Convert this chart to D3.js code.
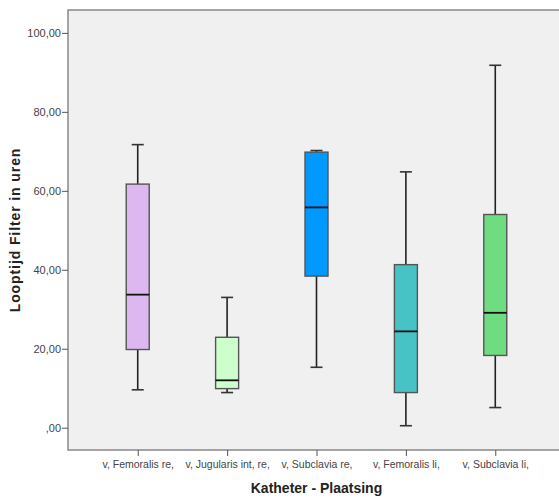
<!DOCTYPE html>
<html>
<head>
<meta charset="utf-8">
<script src="https://cdn.jsdelivr.net/npm/d3@7"></script>
<style>
  body { margin: 0; background: #fff; }
  svg { display: block; }
</style>
</head>
<body>
<div id="chart"></div>
<script>
const width = 559;
const height = 498;

// catheter placement categories
const categories = ['v, Femoralis re,', 'v, Jugularis int, re,', 'v, Subclavia re,', 'v, Femoralis li,', 'v, Subclavia li,'];
// five number summaries (hours)
const minima = [9.6, 8.9, 15.3, 0.5, 5.1];
const q1s = [19.8, 9.9, 38.4, 8.9, 18.3];
const medians = [33.7, 12.0, 55.8, 24.4, 29.1];
const q3s = [61.7, 22.9, 69.8, 41.3, 54.0];
const maxima = [71.7, 33.0, 70.2, 64.8, 91.8];
const boxColors = ['#ddb8f0', '#ccffcc', '#0099ff', '#47c3c6', '#6fdc82'];
const yTicks = [0, 20, 40, 60, 80, 100];

const margin = { top: 10, right: -6, bottom: 48, left: 68 };

const x = d3.scalePoint()
  .domain(categories)
  .range([margin.left, width - margin.right])
  .padding(0.78);

const y = d3.scaleLinear()
  .domain([-5.65, 105.8])
  .range([height - margin.bottom, margin.top]);

const fmt = d => d3.format('.2f')(d).replace('.', ',').replace(/^0/, '');

const svg = d3.select('#chart').append('svg')
    .attr('width', width)
    .attr('height', height);

// plot background
svg.append('rect')
    .attr('x', margin.left)
    .attr('y', margin.top)
    .attr('width', width - margin.right - margin.left)
    .attr('height', height - margin.bottom - margin.top)
    .attr('fill', '#f0f0f0')
    .attr('stroke', '#888')
    .attr('stroke-width', 1.5);

const yAxis = svg.append('g')
    .attr('transform', `translate(${margin.left},0)`)
    .call(d3.axisLeft(y).tickValues(yTicks).tickFormat(fmt).tickSize(6).tickPadding(1))
    .call(g => g.select('.domain').remove());
yAxis.selectAll('line').attr('stroke', '#555');
yAxis.selectAll('text')
    .attr('fill', '#444')
    .attr('font-family', 'Arial, "Liberation Sans", sans-serif')
    .attr('font-size', 11);

const xAxis = svg.append('g')
    .attr('transform', `translate(0,${height - margin.bottom})`)
    .call(d3.axisBottom(x).tickSize(6).tickPadding(5))
    .call(g => g.select('.domain').remove());
xAxis.selectAll('line').attr('stroke', '#555');
xAxis.selectAll('text')
    .attr('fill', '#444')
    .attr('font-family', 'Arial, "Liberation Sans", sans-serif')
    .attr('font-size', 10.5);

// axis titles
svg.append('text')
    .attr('x', x(categories[2]))
    .attr('y', 493)
    .attr('text-anchor', 'middle')
    .attr('font-family', 'Arial, "Liberation Sans", sans-serif')
    .attr('font-weight', 'bold')
    .attr('font-size', 14)
    .attr('fill', '#222')
    .text('Katheter - Plaatsing');

svg.append('text')
    .attr('transform', 'translate(20,230) rotate(-90)')
    .attr('text-anchor', 'middle')
    .attr('font-family', 'Arial, "Liberation Sans", sans-serif')
    .attr('font-weight', 'bold')
    .attr('font-size', 14)
    .attr('letter-spacing', 0.9)
    .attr('fill', '#222')
    .text('Looptijd Filter in uren');

const boxW = 23;
const capW = 12;

const boxes = svg.append('g')
  .selectAll('g')
  .data(categories)
  .join('g')
    .attr('transform', d => `translate(${x(d)},0)`);

// whiskers
boxes.append('line')
    .attr('y1', (d, i) => y(minima[i]))
    .attr('y2', (d, i) => y(maxima[i]))
    .attr('stroke', '#222')
    .attr('stroke-width', 1.6);

boxes.selectAll('line.cap')
  .data((d, i) => [minima[i], maxima[i]])
  .join('line')
    .attr('class', 'cap')
    .attr('x1', -capW / 2)
    .attr('x2', capW / 2)
    .attr('y1', d => y(d))
    .attr('y2', d => y(d))
    .attr('stroke', '#333')
    .attr('stroke-width', 1.6);

boxes.append('rect')
    .attr('x', -boxW / 2)
    .attr('width', boxW)
    .attr('y', (d, i) => y(q3s[i]))
    .attr('height', (d, i) => y(q1s[i]) - y(q3s[i]))
    .attr('fill', (d, i) => boxColors[i])
    .attr('stroke', '#555')
    .attr('stroke-width', 1.4);

boxes.append('line')
    .attr('x1', -boxW / 2)
    .attr('x2', boxW / 2)
    .attr('y1', (d, i) => y(medians[i]))
    .attr('y2', (d, i) => y(medians[i]))
    .attr('stroke', '#111')
    .attr('stroke-width', 1.8);
</script>
</body>
</html>
